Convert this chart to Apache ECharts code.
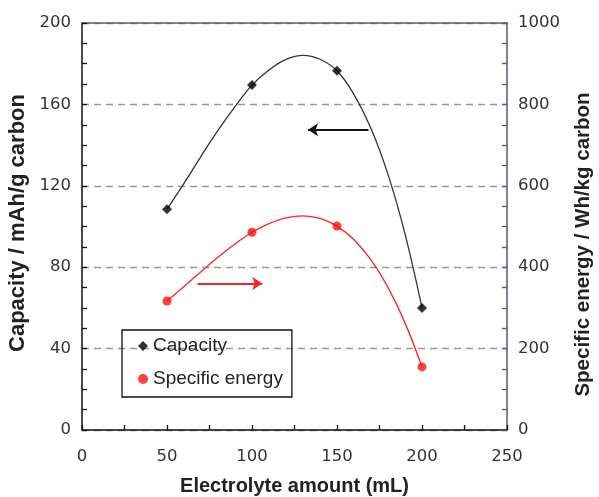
<!DOCTYPE html>
<html>
<head>
<meta charset="utf-8">
<script src="https://cdn.jsdelivr.net/npm/echarts@6/dist/echarts.min.js"></script>
<style>html,body{margin:0;padding:0;background:#fff;}#c{width:599px;height:497px;}</style>
</head>
<body>
<div id="c"></div>
<script>
const xValues = [50, 100, 150, 200];
const capacity = [108.5, 169.5, 176.5, 60];
const specificEnergy = [317, 486, 501, 155];
const curveX = [50, 60, 70, 80, 90, 100, 110, 120, 130, 140, 150, 160, 170, 180, 190, 200];
const capacityCurve = [108.5, 121.2, 134.5, 147.2, 158.9, 169.5, 176.9, 182.1, 184.1, 182.2, 176.5, 164.8, 148.2, 125.6, 96.4, 60];
const energyCurve = [317, 352.7, 389.0, 424.3, 456.8, 486, 507.1, 521.4, 526.3, 520.0, 501, 467.5, 417.8, 350.3, 263.2, 155];
const capacityArrow = [[168.5, 147.5], [133, 147.5]];
const energyArrow = [[68, 360], [106, 360]];

const font = 'Liberation Sans, Arial, sans-serif';
const tickFont = 'DejaVu Sans, sans-serif';
const pair = (xs, ys) => xs.map((x, i) => [x, ys[i]]);

const chart = echarts.init(document.getElementById('c'), null, {renderer: 'canvas'});
chart.setOption({
  animation: false,
  backgroundColor: '#fff',
  grid: {left: 82, right: 92, top: 23, bottom: 67, outerBoundsMode: 'none', containLabel: false},
  legend: {
    left: 122, top: 330,
    orient: 'vertical',
    data: [{name: 'Capacity', icon: 'diamond'}, {name: 'Specific energy', icon: 'circle'}],
    itemWidth: 10, itemHeight: 10, itemGap: 13,
    padding: [6, 9, 8, 16],
    borderColor: '#111', borderWidth: 1.3, borderRadius: 0,
    textStyle: {fontFamily: font, fontSize: 19, color: '#222', lineHeight: 20}
  },
  xAxis: [{
    type: 'value', min: 0, max: 250, interval: 50,
    name: 'Electrolyte amount (mL)', nameLocation: 'middle', nameGap: 46,
    nameTextStyle: {fontFamily: font, fontSize: 20, fontWeight: 'bold', color: '#222'},
    axisLine: {show: true, onZero: false, lineStyle: {color: '#111', width: 1.5}},
    axisTick: {show: true, inside: true, length: 5, lineStyle: {color: '#111', width: 1.3}},
    minorTick: {show: true, splitNumber: 2, length: 5, lineStyle: {color: '#111', width: 1.3}},
    axisLabel: {fontFamily: tickFont, fontSize: 16.5, color: '#333', margin: 18},
    splitLine: {show: false}
  }, {
    type: 'value', min: 0, max: 250, position: 'top',
    axisLine: {show: true, onZero: false, lineStyle: {color: '#55558f', width: 1.5}},
    axisTick: {show: false}, axisLabel: {show: false}, splitLine: {show: false}
  }],
  yAxis: [{
    type: 'value', min: 0, max: 200, interval: 40, position: 'left',
    name: 'Capacity / mAh/g carbon', nameLocation: 'middle', nameGap: 49, nameRotate: 90,
    nameTextStyle: {fontFamily: font, fontSize: 22, fontWeight: 'bold', color: '#222', padding: [0, 0, 0, 7]},
    axisLine: {show: true, onZero: false, lineStyle: {color: '#111', width: 1.5}},
    axisTick: {show: true, inside: true, length: 5, lineStyle: {color: '#111', width: 1.3}},
    minorTick: {show: true, splitNumber: 4, length: 5, lineStyle: {color: '#111', width: 1.3}},
    axisLabel: {fontFamily: tickFont, fontSize: 16.5, color: '#333', margin: 11},
    splitLine: {show: true, lineStyle: {color: '#999', type: [7, 5], width: 1.3}}
  }, {
    type: 'value', min: 0, max: 1000, interval: 200, position: 'right',
    name: 'Specific energy / Wh/kg carbon', nameLocation: 'middle', nameGap: 66, nameRotate: 90,
    nameTextStyle: {fontFamily: font, fontSize: 20.5, fontWeight: 'bold', color: '#222', padding: [0, 36, 0, 0]},
    axisLine: {show: true, onZero: false, lineStyle: {color: '#55558f', width: 1.5}},
    axisTick: {show: true, inside: true, length: 5, lineStyle: {color: '#55558f', width: 1.3}},
    minorTick: {show: true, splitNumber: 4, length: 5, lineStyle: {color: '#55558f', width: 1.3}},
    axisLabel: {fontFamily: tickFont, fontSize: 16.5, color: '#333', margin: 11, formatter: v => String(v)},
    splitLine: {show: false}
  }],
  series: [{
    name: 'capacityCurve', type: 'line', yAxisIndex: 0, smooth: 0.4, showSymbol: false, silent: true,
    data: pair(curveX, capacityCurve),
    lineStyle: {color: '#333', width: 1.3},
    markLine: {
      silent: true, symbol: ['none', 'arrow'], symbolSize: [10, 10],
      label: {show: false},
      lineStyle: {color: '#111', type: 'solid', width: 2},
      data: [[{coord: capacityArrow[0]}, {coord: capacityArrow[1]}]]
    }
  }, {
    name: 'energyCurve', type: 'line', yAxisIndex: 1, smooth: 0.4, showSymbol: false, silent: true,
    data: pair(curveX, energyCurve),
    lineStyle: {color: '#f22', width: 1.3},
    markLine: {
      silent: true, symbol: ['none', 'arrow'], symbolSize: [10, 10],
      label: {show: false},
      lineStyle: {color: '#f22', type: 'solid', width: 2},
      data: [[{coord: energyArrow[0]}, {coord: energyArrow[1]}]]
    }
  }, {
    name: 'Capacity', type: 'scatter', yAxisIndex: 0, symbol: 'diamond', symbolSize: 10,
    itemStyle: {color: '#000'},
    data: pair(xValues, capacity), z: 5
  }, {
    name: 'Specific energy', type: 'scatter', yAxisIndex: 1, symbol: 'circle', symbolSize: 9,
    itemStyle: {color: '#f11'},
    data: pair(xValues, specificEnergy), z: 5
  }]
});
</script>
</body>
</html>
